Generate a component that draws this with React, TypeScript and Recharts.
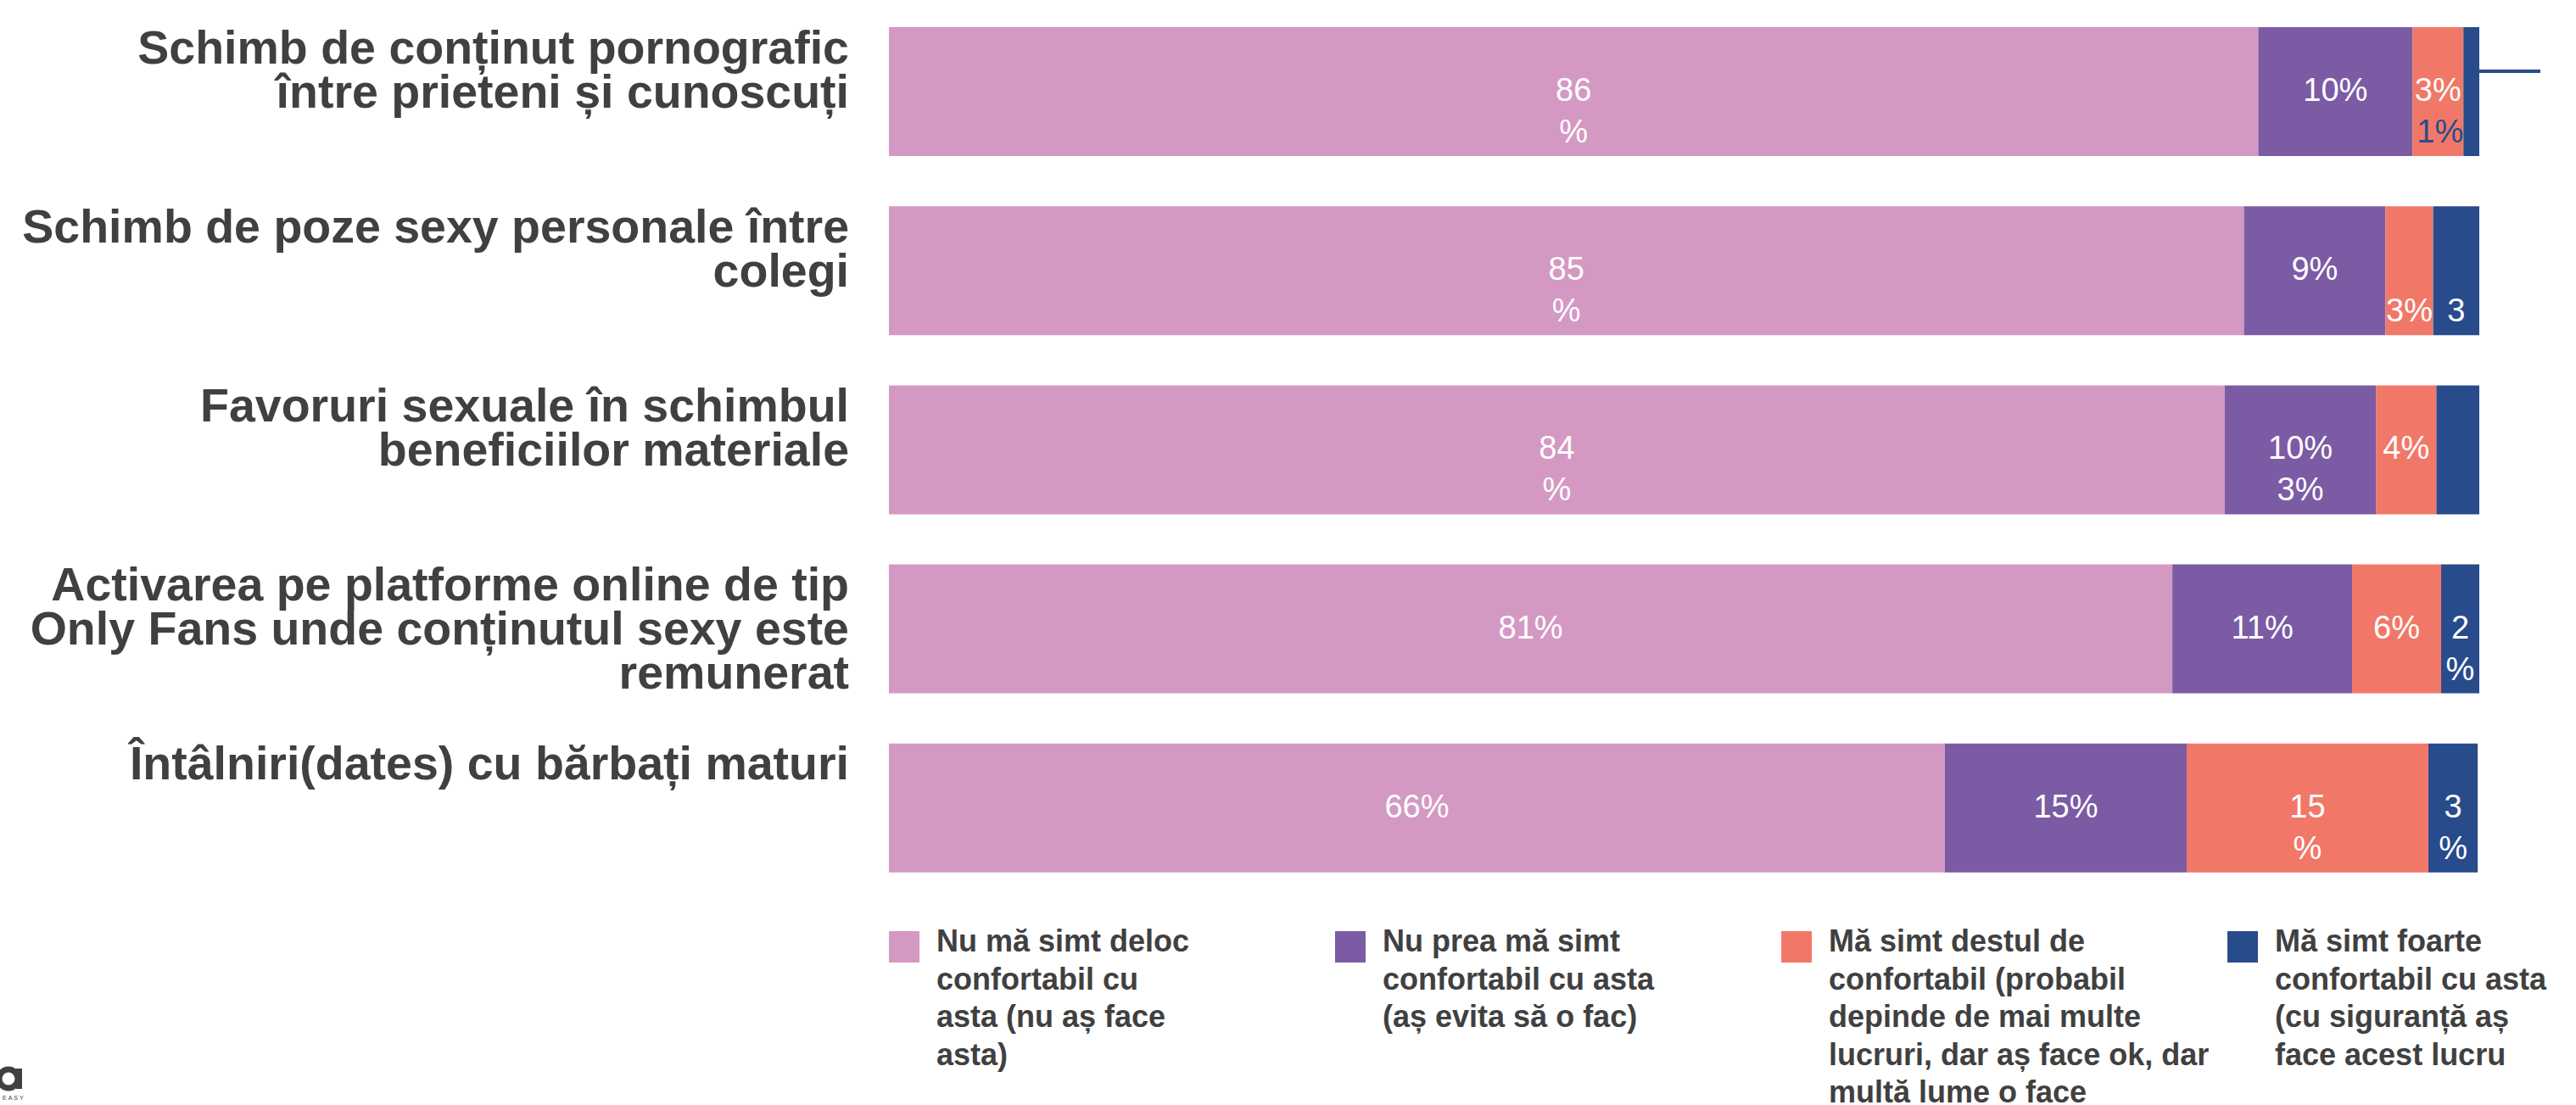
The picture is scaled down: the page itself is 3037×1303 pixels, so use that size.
import React from "react";
import { BarChart, Bar, XAxis, YAxis, LabelList, Legend } from "recharts";

// ---------- data ----------
const categoryLines: string[][] = [
  ["Schimb de conținut pornografic", "între prieteni și cunoscuți"],
  ["Schimb de poze sexy personale între", "colegi"],
  ["Favoruri sexuale în schimbul", "beneficiilor materiale"],
  ["Activarea pe platforme online de tip", "Only Fans unde conținutul sexy este", "remunerat"],
  ["Întâlniri(dates) cu bărbați maturi"],
];

const seriesNames = [
  "Nu mă simt deloc confortabil cu asta (nu aș face asta)",
  "Nu prea mă simt confortabil cu asta (aș evita să o fac)",
  "Mă simt destul de confortabil (probabil depinde de mai multe lucruri, dar aș face ok, dar multă lume o face",
  "Mă simt foarte confortabil cu asta (cu siguranță aș face acest lucru",
];

const legendLines: string[][] = [
  ["Nu mă simt deloc", "confortabil cu", "asta (nu aș face", "asta)"],
  ["Nu prea mă simt", "confortabil cu asta", "(aș evita să o fac)"],
  ["Mă simt destul de", "confortabil (probabil", "depinde de mai multe", "lucruri, dar aș face ok, dar", "multă lume o face"],
  ["Mă simt foarte", "confortabil cu asta", "(cu siguranță aș", "face acest lucru"],
];

const deloc = [86.1, 85.2, 84.0, 80.7, 66.4];
const nuPrea = [9.7, 8.9, 9.5, 11.3, 15.2];
const destul = [3.2, 3.0, 3.8, 5.6, 15.2];
const foarte = [1.0, 2.9, 2.7, 2.4, 3.1];

// data label texts as shown (lines)
const delocLabels: string[][] = [["86", "%"], ["85", "%"], ["84", "%"], ["81%"], ["66%"]];
const nuPreaLabels: string[][] = [["10%"], ["9%"], ["10%", "3%"], ["11%"], ["15%"]];
const destulLabels: string[][] = [["3%"], ["", "3%"], ["4%"], ["6%"], ["15", "%"]];
const foarteLabels: string[][] = [["", "1%"], ["", "3"], [], ["2", "%"], ["3", "%"]];

const colors = ["#D399C3", "#7C5BA5", "#F17868", "#284B8C"];

const data = categoryLines.map((_, i) => ({
  name: String(i),
  deloc: deloc[i],
  nuPrea: nuPrea[i],
  destul: destul[i],
  foarte: foarte[i],
}));

// ---------- rendering helpers ----------
const FONT = "'Liberation Sans', Arial, sans-serif";
const TEXT_COLOR = "#404040";

const makeLabel = (lines: string[][], barColor: string) => (props: any) => {
  const { x, y, width, height, index } = props;
  const ls = lines[index] || [];
  const cy = y + height / 2;
  const narrow = width < 30;
  const tx = narrow ? x : x + width / 2;
  return (
    <g>
      {narrow ? (
        <line x1={x + width} y1={y + 52} x2={x + width + 72} y2={y + 52} stroke={barColor} strokeWidth={4} />
      ) : null}
      {ls.map((t, i) =>
        t ? (
          <text
            key={i}
            x={tx}
            y={cy + 11 + i * 49}
            textAnchor={narrow ? "end" : "middle"}
            fill={narrow ? barColor : "#ffffff"}
            fontSize={38}
            fontFamily={FONT}
          >
            {t}
          </text>
        ) : null
      )}
    </g>
  );
};

const LABEL_RIGHT = 1001;

const CategoryTick = (props: any) => {
  const { y, payload } = props;
  const lines = categoryLines[Number(payload.value)] || [];
  return (
    <g>
      {lines.map((l, i) => (
        <text
          key={i}
          x={LABEL_RIGHT}
          y={y - 33 + i * 52}
          textAnchor="end"
          fill={TEXT_COLOR}
          fontSize={55.5}
          fontWeight="bold"
          fontFamily={FONT}
        >
          {l}
        </text>
      ))}
    </g>
  );
};

const LegendContent = () => (
  <div style={{ position: "relative", width: 3037, height: 220 }}>
    {legendLines.map((lines, i) => (
      <div key={i} style={{ position: "absolute", left: 1048 + i * 526, top: 0 }}>
        <div style={{ position: "absolute", left: 0, top: 10, width: 36, height: 37, background: colors[i] }} />
        <div
          style={{
            position: "absolute",
            left: 56,
            top: 0,
            whiteSpace: "nowrap",
            fontFamily: FONT,
            fontWeight: "bold",
            fontSize: 36,
            lineHeight: "44.6px",
            color: TEXT_COLOR,
          }}
        >
          {lines.map((l, j) => (
            <div key={j}>{l}</div>
          ))}
        </div>
      </div>
    ))}
  </div>
);

export default function App() {
  return (
    <div style={{ position: "absolute", left: 0, top: 0, width: 3037, height: 1303, background: "#fff" }}>
      <BarChart
        width={3037}
        height={1303}
        data={data}
        layout="vertical"
        margin={{ top: 2, right: 114, bottom: 25, left: 0 }}
        barSize={152}
      >
        <XAxis type="number" domain={[0, 100]} hide allowDataOverflow />
        <YAxis
          type="category"
          dataKey="name"
          width={1048}
          axisLine={false}
          tickLine={false}
          tick={<CategoryTick />}
          interval={0}
        />
        <Legend
          content={<LegendContent />}
          wrapperStyle={{ position: "absolute", left: 0, top: 1088, width: 3037, height: 220 }}
        />
        <Bar dataKey="deloc" name={seriesNames[0]} stackId="a" fill={colors[0]} isAnimationActive={false}>
          <LabelList content={makeLabel(delocLabels, colors[0])} />
        </Bar>
        <Bar dataKey="nuPrea" name={seriesNames[1]} stackId="a" fill={colors[1]} isAnimationActive={false}>
          <LabelList content={makeLabel(nuPreaLabels, colors[1])} />
        </Bar>
        <Bar dataKey="destul" name={seriesNames[2]} stackId="a" fill={colors[2]} isAnimationActive={false}>
          <LabelList content={makeLabel(destulLabels, colors[2])} />
        </Bar>
        <Bar dataKey="foarte" name={seriesNames[3]} stackId="a" fill={colors[3]} isAnimationActive={false}>
          <LabelList content={makeLabel(foarteLabels, colors[3])} />
        </Bar>
      </BarChart>
      <svg
        width={40}
        height={60}
        style={{ position: "absolute", left: 0, top: 1248 }}
      >
        <circle cx={10} cy={24} r={11} fill="none" stroke={TEXT_COLOR} strokeWidth={7} />
        <rect x={19} y={12} width={7} height={24} fill={TEXT_COLOR} />
        <text x={3} y={49} fontSize={7} fill={TEXT_COLOR} fontFamily={FONT} letterSpacing={2}>
          EASY
        </text>
      </svg>
    </div>
  );
}
